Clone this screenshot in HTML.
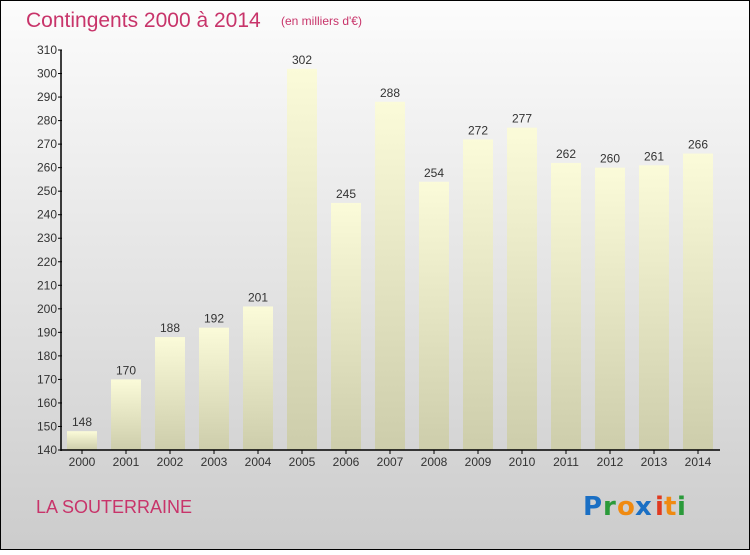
<!DOCTYPE html>
<html><head><meta charset="utf-8"><style>
body{margin:0;width:750px;height:550px;overflow:hidden;font-family:"Liberation Sans",sans-serif}
</style></head><body>
<svg width="750" height="550" xmlns="http://www.w3.org/2000/svg">
<defs>
<linearGradient id="bg" x1="0" y1="0" x2="0" y2="1"><stop offset="0" stop-color="#fcfcfc"/><stop offset="1" stop-color="#cccccc"/></linearGradient>
<linearGradient id="bar" x1="0" y1="0" x2="0" y2="1"><stop offset="0" stop-color="#fbfbd9"/><stop offset="1" stop-color="#cdcdab"/></linearGradient>
</defs>
<rect x="0.5" y="0.5" width="749" height="549" fill="url(#bg)" stroke="#000"/>
<text x="26" y="27" font-size="21" fill="#c8346a">Contingents 2000 à 2014</text>
<text x="281" y="25" font-size="12" fill="#c8346a">(en milliers d'€)</text>
<g id="plot"></g>
<text x="36" y="513" font-size="18" fill="#c8346a">LA SOUTERRAINE</text>
<g font-size="26" font-weight="bold" font-family="'DejaVu Sans',sans-serif">
<text x="583" y="515" fill="#1a6fc4">P</text><text x="603" y="515" fill="#2a9a3a">r</text><text x="617" y="515" fill="#f08a10">o</text><text x="635" y="515" fill="#1a6fc4">x</text><text x="655" y="515" fill="#e03a20">i</text><text x="664" y="515" fill="#f08a10">t</text><text x="677" y="515" fill="#2a9a3a">i</text>
</g>
</svg>
<script>
const years=["2000","2001","2002","2003","2004","2005","2006","2007","2008","2009","2010","2011","2012","2013","2014"];
const values=[148,170,188,192,201,302,245,288,254,272,277,262,260,261,266];
const ticks=[140,150,160,170,180,190,200,210,220,230,240,250,260,270,280,290,300,310];
const NS="http://www.w3.org/2000/svg";
const g=document.getElementById('plot');
const y=v=>450-(v-140)*400/170;
const x=i=>82+i*44;
function mk(t,a,txt){const e=document.createElementNS(NS,t);for(const k in a)e.setAttribute(k,a[k]);if(txt!==undefined)e.textContent=txt;g.appendChild(e);return e;}
values.forEach((v,i)=>{
 const r=mk('rect',{x:x(i)-15,y:y(v),width:30,height:450-y(v),fill:'url(#bar)'});
 
 
 const l=mk('text',{x:x(i),y:y(v)-5,'font-size':12,fill:'#333','text-anchor':'middle'},String(v));
 
 
 const t=mk('text',{x:x(i),y:466,'font-size':12,fill:'#333','text-anchor':'middle'},years[i]);
 
 
 mk('line',{x1:x(i),x2:x(i),y1:450,y2:454,stroke:'#000'});
});
ticks.forEach(v=>{
 mk('line',{x1:58,x2:62,y1:y(v),y2:y(v),stroke:'#000'});
 const t=mk('text',{x:57,y:y(v)+4,'font-size':12,fill:'#333','text-anchor':'end'},String(v));
 
 
});
const ya=mk('line',{x1:61,x2:61,y1:y(310),y2:451,stroke:'#000','stroke-width':1.5});


const xa=mk('line',{x1:61,x2:720,y1:450,y2:450,stroke:'#000','stroke-width':1.5});


</script>
</body></html>
